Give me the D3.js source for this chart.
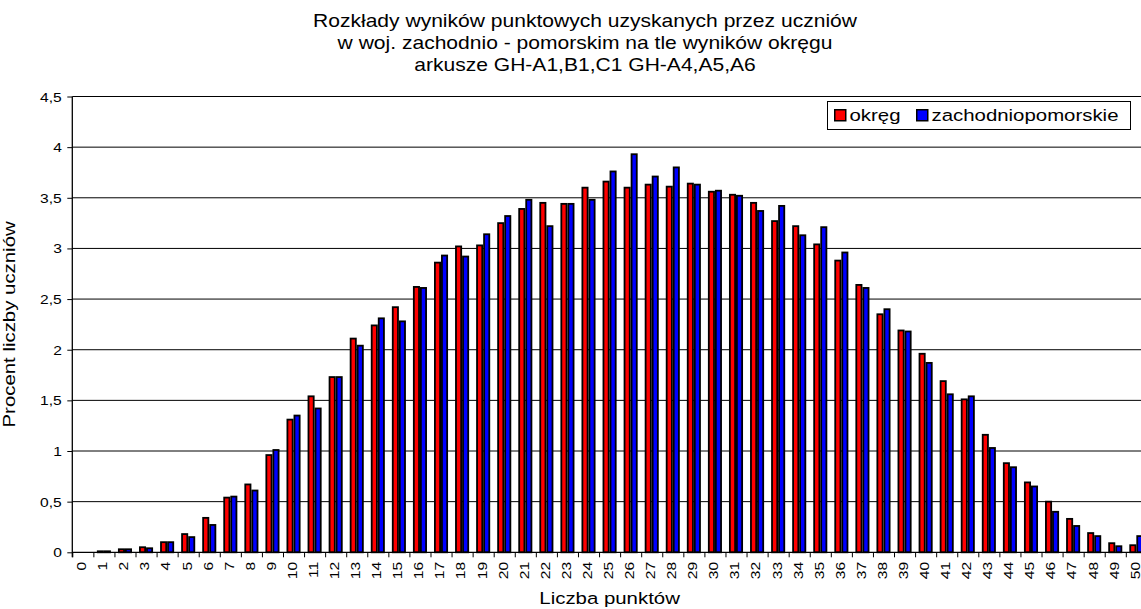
<!DOCTYPE html>
<html>
<head>
<meta charset="utf-8">
<script src="https://cdn.jsdelivr.net/npm/d3@7"></script>
<style>
  html, body { margin: 0; padding: 0; background: #fff; }
  svg { display: block; font-family: "Liberation Sans", Arial, sans-serif; }
</style>
</head>
<body>
<svg id="chart" width="1141" height="609"></svg>
<script>
// Liczba punktów 0..50
const categories = d3.range(0, 51).map(String);

const seriesNames = ["okręg", "zachodniopomorskie"];
const seriesColors = ["#ff0000", "#0000ff"];

// Procent liczby uczniów – okręg
const okreg = [
  0, 0.01, 0.03, 0.05, 0.10, 0.18, 0.34, 0.54, 0.67, 0.96,
  1.31, 1.54, 1.73, 2.11, 2.24, 2.42, 2.62, 2.86, 3.02, 3.03,
  3.25, 3.39, 3.45, 3.44, 3.60, 3.66, 3.60, 3.63, 3.61, 3.64,
  3.56, 3.53, 3.45, 3.27, 3.22, 3.04, 2.88, 2.64, 2.35, 2.19,
  1.96, 1.69, 1.51, 1.16, 0.88, 0.69, 0.50, 0.33, 0.19, 0.09,
  0.07
];

// Procent liczby uczniów – woj. zachodniopomorskie
const zachodniopomorskie = [
  0, 0.01, 0.03, 0.04, 0.10, 0.15, 0.27, 0.55, 0.61, 1.01,
  1.35, 1.42, 1.73, 2.04, 2.31, 2.28, 2.61, 2.93, 2.92, 3.14,
  3.32, 3.48, 3.22, 3.44, 3.48, 3.76, 3.93, 3.71, 3.80, 3.63,
  3.57, 3.52, 3.37, 3.42, 3.13, 3.21, 2.96, 2.61, 2.40, 2.18,
  1.87, 1.56, 1.54, 1.03, 0.84, 0.65, 0.40, 0.26, 0.16, 0.06,
  0.16
];

const yTicks = [0, 0.5, 1, 1.5, 2, 2.5, 3, 3.5, 4, 4.5];

const titleLines = [
  "Rozkłady wyników punktowych uzyskanych przez uczniów",
  "w woj. zachodnio - pomorskim na tle wyników okręgu",
  "arkusze GH-A1,B1,C1 GH-A4,A5,A6"
];
const xTitle = "Liczba punktów";
const yTitle = "Procent liczby uczniów";

// ---- layout ----
const SX = 1.2;                 // wide glyph rendering
const plot = { left: 72.3, top: 96.5, bottom: 552.3, step: 21.07 };
plot.right = plot.left + plot.step * categories.length;

const svg = d3.select("#chart");
svg.append("rect").attr("width", 1141).attr("height", 609).attr("fill", "#fff");

const pl = d3.formatLocale({ decimal: ",", thousands: " ", grouping: [3], currency: ["", " zł"] });
const fmt = pl.format(".1~f");

const x = d3.scaleBand().domain(categories).range([plot.left, plot.right]).padding(0);
const xs = d3.scaleBand().domain(seriesNames).range([0, x.bandwidth()])
  .paddingInner(0).paddingOuter(0.5);
const xEdge = d3.scaleLinear().domain([0, categories.length]).range([plot.left, plot.right]);
const y = d3.scaleLinear().domain([0, 4.5]).range([plot.bottom, plot.top]);

// gridlines
svg.append("g")
  .selectAll("line")
  .data(yTicks.filter(d => d > 0))
  .join("line")
  .attr("x1", plot.left).attr("x2", plot.right)
  .attr("y1", d => y(d)).attr("y2", d => y(d))
  .attr("stroke", "#000").attr("stroke-width", 1);

// bars
const rows = categories.map((c, i) => ({ c, vals: [okreg[i], zachodniopomorskie[i]] }));
const SW = 1.8;
const groups = svg.append("g")
  .selectAll("g")
  .data(rows)
  .join("g")
  .attr("transform", d => `translate(${x(d.c)},0)`);
groups.selectAll("rect")
  .data(d => d.vals.map((v, k) => ({ v, k })).filter(e => e.v > 0))
  .join("rect")
  .attr("x", e => xs(seriesNames[e.k]) + SW / 2)
  .attr("width", xs.bandwidth() - SW)
  .attr("y", e => y(e.v))
  .attr("height", e => y(0) - y(e.v))
  .attr("fill", e => seriesColors[e.k])
  .attr("stroke", "#000")
  .attr("stroke-width", SW);

// y axis
const yAxis = svg.append("g")
  .attr("transform", `translate(${plot.left},0)`)
  .call(d3.axisLeft(y).tickValues(yTicks).tickFormat(fmt).tickSize(5).tickPadding(5));
yAxis.select(".domain").attr("stroke", "#000").attr("stroke-width", 1.3)
  .attr("d", `M0,${plot.top}V${plot.bottom + 5}`);
yAxis.selectAll(".tick line").attr("stroke", "#000");
yAxis.selectAll(".tick text")
  .attr("fill", "#000").attr("font-size", 13).attr("font-family", null)
  .attr("dy", "0.35em")
  .each(function () {
    const t = d3.select(this);
    const xx = +t.attr("x");
    t.attr("x", 0).attr("transform", `translate(${xx - 0.5},0) scale(${SX},1)`);
  });

// x axis: category boundaries carry the tick marks
const xTickAxis = svg.append("g")
  .attr("transform", `translate(0,${plot.bottom})`)
  .call(d3.axisBottom(xEdge).tickValues(d3.range(0, categories.length)).tickFormat("").tickSize(5));
xTickAxis.select(".domain").attr("stroke", "#000").attr("stroke-width", 1.3)
  .attr("d", `M${plot.left},0H${plot.right}`);
xTickAxis.selectAll(".tick line").attr("stroke", "#000");

// x axis labels at category centres
const xLabelAxis = svg.append("g")
  .attr("transform", `translate(-1.2,${plot.bottom})`)
  .call(d3.axisBottom(x).tickSize(0));
xLabelAxis.select(".domain").remove();
xLabelAxis.selectAll(".tick text")
  .attr("fill", "#000").attr("font-size", 13).attr("font-family", null)
  .attr("x", 0).attr("y", 0).attr("dy", "0.35em")
  .attr("text-anchor", "end")
  .attr("transform", `translate(0,9.5) rotate(-90) scale(${SX},1)`);

// axis titles
svg.append("text")
  .attr("transform", `translate(${(plot.left + plot.right) / 2},604) scale(${SX},1)`)
  .attr("text-anchor", "middle").attr("font-size", 17).attr("fill", "#000")
  .text(xTitle);
svg.append("text")
  .attr("transform", `translate(15,${(plot.top + plot.bottom) / 2}) rotate(-90) scale(${SX},1)`)
  .attr("text-anchor", "middle").attr("font-size", 17).attr("fill", "#000")
  .text(yTitle);

// chart title
svg.append("g")
  .selectAll("text")
  .data(titleLines)
  .join("text")
  .attr("transform", (d, i) => `translate(585,${27 + i * 22}) scale(1.17,1)`)
  .attr("text-anchor", "middle").attr("font-size", 18).attr("fill", "#000")
  .text(d => d);

// legend
const lg = svg.append("g");
lg.append("rect")
  .attr("x", 827.5).attr("y", 101.5).attr("width", 303).attr("height", 28)
  .attr("fill", "#fff").attr("stroke", "#000").attr("stroke-width", 1);
const legendX = [834, 916];
const items = lg.selectAll("g.item")
  .data(seriesNames)
  .join("g")
  .attr("class", "item")
  .attr("transform", (d, i) => `translate(${legendX[i]},109)`);
items.append("rect")
  .attr("x", 0.75).attr("y", 0.75).attr("width", 11).attr("height", 11)
  .attr("fill", (d, i) => seriesColors[i]).attr("stroke", "#000").attr("stroke-width", 1.5);
items.append("text")
  .attr("transform", `translate(15.5,12) scale(${SX},1)`)
  .attr("font-size", 17).attr("fill", "#000")
  .text(d => d);
</script>
</body>
</html>
